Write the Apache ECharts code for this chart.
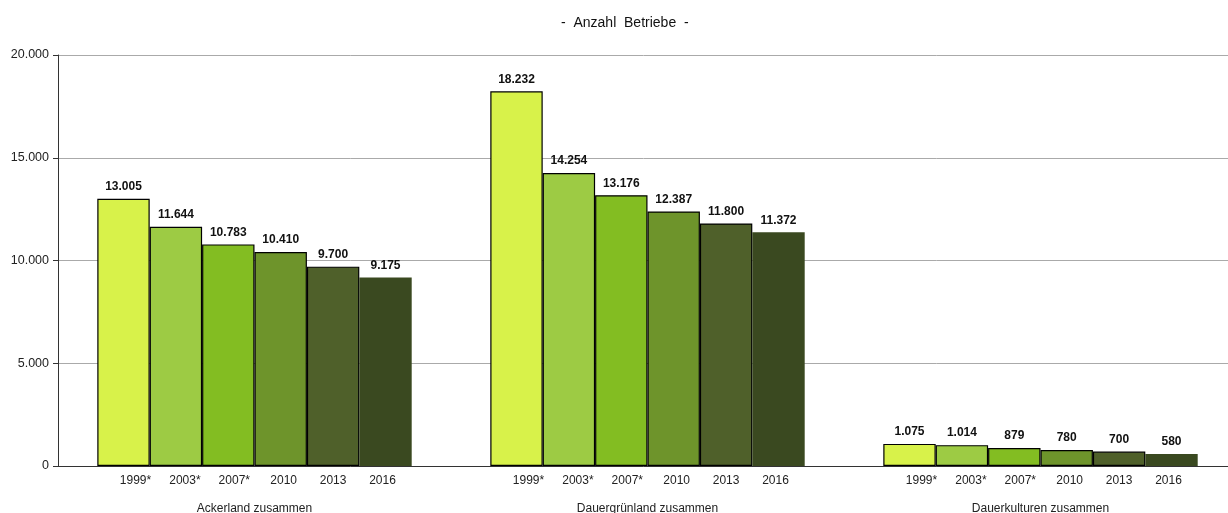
<!DOCTYPE html>
<html>
<head>
<meta charset="utf-8">
<script src="https://cdn.jsdelivr.net/npm/echarts@6/dist/echarts.min.js"></script>
<style>
html,body{margin:0;padding:0;background:#fff;}
#c{width:1228px;height:513px;}
</style>
</head>
<body>
<div id="c"></div>
<script>
const groups = ['Ackerland zusammen', 'Dauergrünland zusammen', 'Dauerkulturen zusammen'];
const years = ['1999*', '2003*', '2007*', '2010', '2013', '2016'];
const v1999 = [13005, 18232, 1075];
const v2003 = [11644, 14254, 1014];
const v2007 = [10783, 13176, 879];
const v2010 = [10410, 12387, 780];
const v2013 = [9700, 11800, 700];
const v2016 = [9175, 11372, 580];
const yTicks = [0, 5000, 10000, 15000, 20000];
const colors = ['#D8F24A', '#9DCB44', '#83BD22', '#6E942B', '#4F602A', '#3A4920'];
const seriesValues = [v1999, v2003, v2007, v2010, v2013, v2016];

function fmt(v) {
  return String(v).replace(/\B(?=(\d{3})+(?!\d))/g, '.');
}

const chart = echarts.init(document.getElementById('c'));
const FONT = '"Liberation Sans", Arial, sans-serif';

chart.setOption({
  animation: false,
  backgroundColor: '#fff',
  title: {
    text: '-  Anzahl  Betriebe  -',
    left: 556,
    top: 11,
    textStyle: { fontFamily: FONT, fontSize: 14, fontWeight: 'normal', color: '#111' }
  },
  grid: { left: 58, right: -9, top: 55, bottom: 47, containLabel: false, outerBoundsMode: 'none' },
  xAxis: {
    type: 'category',
    data: groups,
    axisLine: { lineStyle: { color: '#333', width: 1 } },
    axisTick: { show: false },
    axisLabel: {
      interval: 0,
      margin: 5,
      fontFamily: FONT,
      formatter: function (val) {
        let s = '{sp|}';
        years.forEach(y => { s += '{y|' + y + '}'; });
        return s + '\n{g|' + val + '}';
      },
      rich: {
        sp: { width: 9, lineHeight: 20 },
        y: { width: 49.4, align: 'center', fontSize: 12, fontFamily: FONT, color: '#222', lineHeight: 20 },
        g: { fontSize: 12, fontFamily: FONT, color: '#222', lineHeight: 36 }
      }
    }
  },
  yAxis: {
    type: 'value',
    min: yTicks[0],
    max: yTicks[yTicks.length - 1],
    interval: yTicks[1] - yTicks[0],
    axisLine: { show: true, lineStyle: { color: '#333', width: 1 } },
    axisTick: { show: true, length: 5, lineStyle: { color: '#333' } },
    axisLabel: { formatter: fmt, fontFamily: FONT, fontSize: 12.5, color: '#222', margin: 9 },
    splitLine: { lineStyle: { color: '#aaaaaa', width: 1 } }
  },
  series: seriesValues.map((vals, i) => ({
    name: years[i],
    type: 'bar',
    data: vals,
    barGap: '0%',
    barCategoryGap: '20%',
    itemStyle: {
      color: colors[i],
      borderColor: i === 5 ? colors[i] : '#000',
      borderWidth: i === 5 ? 0 : 1.2
    },
    label: {
      show: true,
      position: 'top',
      distance: 6,
      formatter: p => fmt(p.value),
      fontFamily: FONT,
      fontSize: 12,
      fontWeight: 'bold',
      color: '#111'
    }
  }))
});
</script>
</body>
</html>
